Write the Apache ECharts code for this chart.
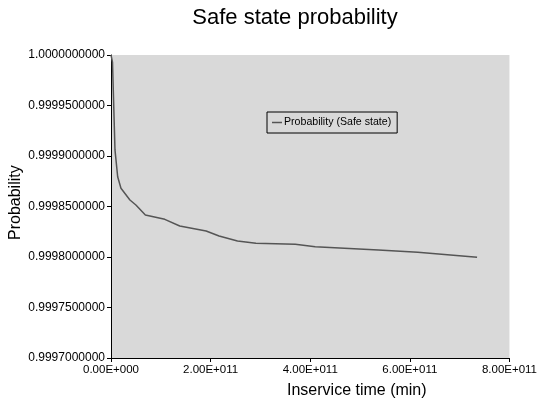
<!DOCTYPE html>
<html>
<head>
<meta charset="utf-8">
<script src="https://cdn.jsdelivr.net/npm/echarts@6/dist/echarts.min.js"></script>
<style>html,body{margin:0;padding:0;background:#fff}#c{width:540px;height:407px}</style>
</head>
<body>
<div id="c"></div>
<script>
// Data
var times = [0, 3e9, 8e9, 1.34e10, 2.0e10, 3.8e10, 5.0e10, 6.9e10, 1.08e11, 1.38e11, 1.91e11, 2.17e11, 2.54e11, 2.91e11, 3.70e11, 4.10e11, 5.37e11, 6.16e11, 7.35e11];
var probs = [1.0, 0.999993, 0.999906, 0.9998795, 0.999868, 0.9998564, 0.9998515, 0.9998416, 0.9998373, 0.9998307, 0.9998257, 0.9998208, 0.9998158, 0.9998136, 0.9998126, 0.9998102, 0.9998069, 0.9998047, 0.9997997];
var seriesName = 'Probability (Safe state)';
var yTicks = [0.9997, 0.99975, 0.9998, 0.99985, 0.9999, 0.99995, 1.0];
var xTicks = [0, 2e11, 4e11, 6e11, 8e11];

function sci(v) {
  if (v === 0) return '0.00E+000';
  var e = Math.floor(Math.log10(Math.abs(v)));
  var m = v / Math.pow(10, e);
  var es = String(Math.abs(e));
  while (es.length < 3) es = '0' + es;
  return m.toFixed(2) + 'E' + (e < 0 ? '-' : '+') + es;
}

var chart = echarts.init(document.getElementById('c'), null, {renderer: 'canvas'});
var font = 'Liberation Sans, Arial, sans-serif';
chart.setOption({
  backgroundColor: '#ffffff',
  animation: false,
  textStyle: {fontFamily: font},
  title: {
    text: 'Safe state probability',
    left: 290, top: 2, textAlign: 'center',
    textStyle: {fontSize: 22, fontWeight: 'normal', color: '#000', fontFamily: font}
  },
  legend: {
    data: [seriesName],
    left: 267, top: 112,
    orient: 'horizontal',
    backgroundColor: '#d9d9d9',
    borderColor: '#000', borderWidth: 1,
    padding: [5, 6, 5, 5],
    icon: 'rect',
    itemWidth: 10, itemHeight: 1.5, itemGap: 2,
    textStyle: {fontSize: 10.6, color: '#000', fontFamily: font, padding: [0, 0, 0, -3]}
  },
  grid: {
    left: 111, right: 28, top: 55, bottom: 49,
    show: true, backgroundColor: '#d9d9d9', borderWidth: 0,
    containLabel: false
  },
  xAxis: {
    type: 'value', min: 0, max: 8e11, interval: 2e11,
    axisLine: {show: true, lineStyle: {color: '#000', width: 1}},
    axisTick: {show: true, length: 4, inside: false, lineStyle: {color: '#000'}},
    axisLabel: {formatter: function (v) { return sci(v); }, fontSize: 11.5, color: '#000', margin: 6, fontFamily: font},
    splitLine: {show: false}
  },
  yAxis: {
    type: 'value', min: 0.9997, max: 1.0, interval: 0.00005,
    axisLine: {show: true, lineStyle: {color: '#000', width: 1}},
    axisTick: {show: true, length: 4, lineStyle: {color: '#000'}},
    axisLabel: {formatter: function (v) { return v.toFixed(10); }, fontSize: 12, color: '#000', margin: 6, fontFamily: font},
    splitLine: {show: false}
  },
  graphic: [
    {type: 'text', left: 287, top: 383, style: {text: 'Inservice time (min)', font: '16px ' + font, fill: '#000'}},
    {type: 'text', rotation: Math.PI / 2, x: 8, y: 240, style: {text: 'Probability', font: '16px ' + font, fill: '#000'}}
  ],
  series: [{
    name: seriesName,
    type: 'line',
    data: times.map(function (t, i) { return [t, probs[i]]; }),
    symbol: 'none', showSymbol: false,
    lineStyle: {color: '#555555', width: 1.5},
    itemStyle: {color: '#555555'}
  }]
});
</script>
</body>
</html>
